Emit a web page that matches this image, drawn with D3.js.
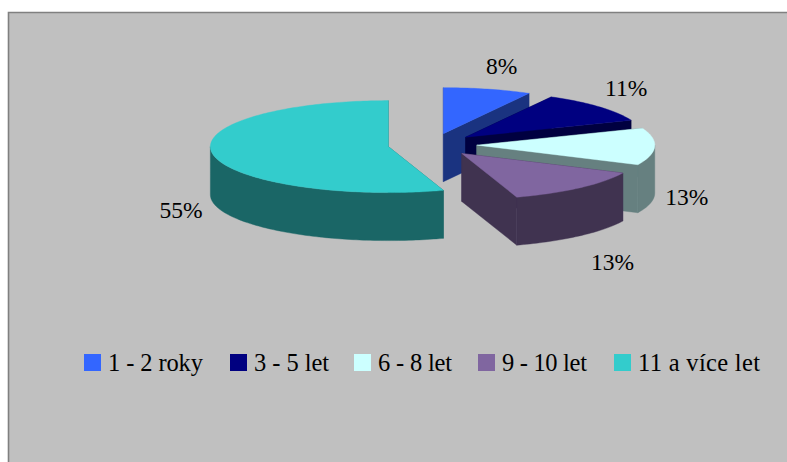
<!DOCTYPE html>
<html>
<head>
<meta charset="utf-8">
<script src="https://cdn.jsdelivr.net/npm/d3@7"></script>
<style>
html,body{margin:0;padding:0;background:#fff}
svg{display:block}
text{font-family:"Liberation Serif","Times New Roman",serif;fill:#000}
</style>
</head>
<body>
<svg id="c" width="787" height="462"></svg>
<script>
const categories = ["1 - 2 roky", "3 - 5 let", "6 - 8 let", "9 - 10 let", "11 a více let"];
const values = [8, 11, 13, 13, 55];
const labels = ["8%", "11%", "13%", "13%", "55%"];
const topColors = ["#3366ff", "#000080", "#ccffff", "#8066a0", "#33cccc"];
const sideColors = ["#1a3380", "#000040", "#668080", "#403350", "#1a6666"];

// layout
const W = 787, H = 462;
const cx = 432.3, cy = 144.8, rx = 178, ry = 46, depth = 48, explode = 0.25;
const labelOffsets = [[14,-15],[27,-11],[32,58],[33,82],[-31.5,64]];
const legendX = [84, 230, 354, 478, 614];
const legendTextWidths = [95, 75, 74, 85, 122];

const svg = d3.select("#c");
svg.append("rect").attr("x",8).attr("y",12).attr("width",W-8).attr("height",H-12).attr("fill","#c0c0c0");
svg.append("path").attr("d",`M8.5,${H}V12.5H${W}`).attr("fill","none").attr("stroke","#808080").attr("stroke-width",1.6);

const sx = d3.scaleLinear().domain([-1,1]).range([cx-rx,cx+rx]);
const sy = d3.scaleLinear().domain([-1,1]).range([cy-ry,cy+ry]);
const pie = d3.pie().sort(null).value(d=>d);
const arcs = pie(values);
const line = d3.line();

function pt(a, r, mid, dz){
  const px = explode*Math.sin(mid)+r*Math.sin(a);
  const py = -explode*Math.cos(mid)-r*Math.cos(a);
  return [sx(px), sy(py)+(dz||0)];
}
function angles(a0,a1){
  const n = Math.max(2,Math.ceil((a1-a0)/0.02));
  return d3.range(n+1).map(i=>a0+(a1-a0)*i/n);
}

const g = svg.append("g");
arcs.forEach((d,i)=>{
  const mid=(d.startAngle+d.endAngle)/2;
  const sl=g.append("g");
  // cut faces
  [d.startAngle,d.endAngle].forEach(a=>{
    sl.append("path").attr("fill",sideColors[i]).attr("stroke",sideColors[i]).attr("stroke-width",0.4)
      .attr("d",line([pt(a,0,mid),pt(a,1,mid),pt(a,1,mid,depth),pt(a,0,mid,depth)])+"Z");
  });
  // outer wall (front half only)
  const w0=Math.max(d.startAngle,Math.PI/2), w1=Math.min(d.endAngle,Math.PI*1.5);
  if(w1>w0){
    const as=angles(w0,w1);
    const pts=as.map(a=>pt(a,1,mid)).concat(as.slice().reverse().map(a=>pt(a,1,mid,depth)));
    sl.append("path").attr("fill",sideColors[i]).attr("stroke",sideColors[i]).attr("stroke-width",0.4).attr("d",line(pts)+"Z");
  }
  // top
  const tp=[pt(0,0,mid)].concat(angles(d.startAngle,d.endAngle).map(a=>pt(a,1,mid)));
  sl.append("path").attr("fill",topColors[i]).attr("stroke",topColors[i]).attr("stroke-width",0.4).attr("d",line(tp)+"Z");
});

// data labels
arcs.forEach((d,i)=>{
  const mid=(d.startAngle+d.endAngle)/2;
  const p=pt(mid,1,mid);
  svg.append("text").attr("x",p[0]+labelOffsets[i][0]).attr("y",p[1]+labelOffsets[i][1])
    .attr("text-anchor","middle").attr("font-size",23.5).text(labels[i]);
});

// legend
categories.forEach((c,i)=>{
  svg.append("rect").attr("x",legendX[i]).attr("y",354).attr("width",17).attr("height",17).attr("fill",topColors[i]);
  svg.append("text").attr("x",legendX[i]+24).attr("y",371).attr("font-size",24.5)
    .attr("textLength",legendTextWidths[i]).attr("lengthAdjust","spacing").text(c);
});
</script>
</body>
</html>
